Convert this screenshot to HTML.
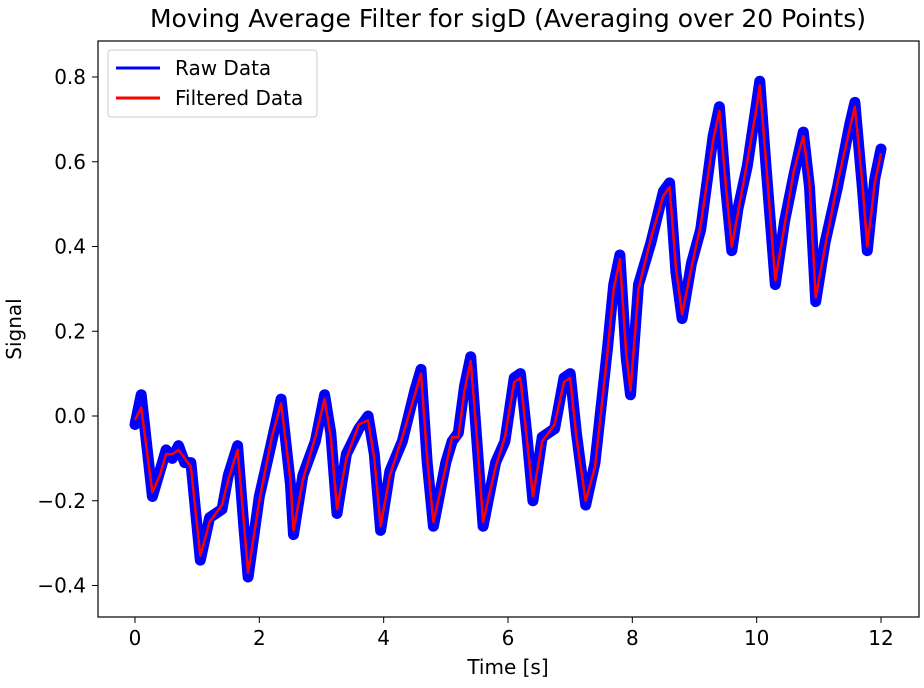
<!DOCTYPE html>
<html><head><meta charset="utf-8"><style>
html,body{margin:0;padding:0;background:#fff;}
svg{display:block;font-family:"DejaVu Sans","Liberation Sans",sans-serif;}
</style></head><body>
<svg id="chart" width="924" height="688">
<rect x="0" y="0" width="924" height="688" fill="#fff"/>
<text x="508" y="27" font-size="25" text-anchor="middle" fill="#000">Moving Average Filter for sigD (Averaging over 20 Points)</text>
<g id="plot"></g>
<g id="xticks"></g>
<g id="yticks"></g>
<text x="508" y="674" font-size="20" text-anchor="middle">Time [s]</text>
<text transform="translate(21,329) rotate(-90)" font-size="20" text-anchor="middle">Signal</text>
<rect x="98" y="41" width="821" height="576" fill="none" stroke="#000" stroke-width="1.2"/>
<g>
<rect x="108" y="50" width="209" height="67" rx="3" fill="#fff" stroke="#ccc"/>
<line x1="116" y1="68" x2="160" y2="68" stroke="#0000ff" stroke-width="3"/>
<text x="175" y="75" font-size="20">Raw Data</text>
<line x1="116" y1="98" x2="160" y2="98" stroke="#ff0000" stroke-width="3"/>
<text x="175" y="105" font-size="20">Filtered Data</text>
</g>
</svg>
<script>
const times=[0,0.1,0.28,0.4,0.5,0.6,0.7,0.8,0.9,1.05,1.2,1.4,1.5,1.65,1.75,1.82,2.0,2.2,2.35,2.5,2.55,2.7,2.9,3.05,3.15,3.25,3.4,3.6,3.75,3.85,3.95,4.1,4.3,4.5,4.6,4.7,4.8,5.0,5.1,5.2,5.3,5.4,5.5,5.6,5.8,5.95,6.1,6.2,6.3,6.4,6.55,6.75,6.9,7.0,7.1,7.25,7.4,7.6,7.7,7.8,7.9,7.97,8.1,8.3,8.5,8.6,8.7,8.8,8.95,9.1,9.3,9.4,9.5,9.6,9.7,9.85,10.0,10.05,10.15,10.3,10.45,10.6,10.75,10.85,10.95,11.1,11.3,11.5,11.58,11.7,11.78,11.9,12.0];
const filtered=[-0.01,0.02,-0.18,-0.14,-0.09,-0.09,-0.08,-0.1,-0.12,-0.33,-0.25,-0.21,-0.15,-0.08,-0.25,-0.37,-0.2,-0.05,0.03,-0.15,-0.27,-0.15,-0.05,0.04,-0.05,-0.22,-0.1,-0.02,-0.01,-0.1,-0.26,-0.14,-0.05,0.05,0.1,-0.1,-0.25,-0.12,-0.05,-0.05,0.06,0.13,-0.05,-0.25,-0.12,-0.05,0.08,0.09,-0.05,-0.19,-0.06,-0.02,0.08,0.09,-0.05,-0.2,-0.12,0.15,0.3,0.37,0.15,0.06,0.3,0.42,0.52,0.54,0.35,0.24,0.35,0.45,0.65,0.72,0.55,0.4,0.48,0.6,0.73,0.78,0.6,0.32,0.45,0.58,0.66,0.55,0.28,0.4,0.55,0.68,0.73,0.55,0.4,0.55,0.62];
const raw=[-0.02,0.05,-0.19,-0.13,-0.08,-0.1,-0.07,-0.11,-0.11,-0.34,-0.24,-0.22,-0.14,-0.07,-0.26,-0.38,-0.19,-0.06,0.04,-0.16,-0.28,-0.14,-0.06,0.05,-0.04,-0.23,-0.09,-0.03,0.0,-0.09,-0.27,-0.13,-0.06,0.06,0.11,-0.11,-0.26,-0.11,-0.06,-0.04,0.07,0.14,-0.06,-0.26,-0.11,-0.06,0.09,0.1,-0.04,-0.2,-0.05,-0.03,0.09,0.1,-0.04,-0.21,-0.11,0.16,0.31,0.38,0.14,0.05,0.31,0.41,0.53,0.55,0.34,0.23,0.36,0.44,0.66,0.73,0.54,0.39,0.49,0.59,0.74,0.79,0.59,0.31,0.46,0.57,0.67,0.54,0.27,0.41,0.54,0.69,0.74,0.54,0.39,0.56,0.63];
const xTicks=[0,2,4,6,8,10,12];
const yTicks=[-0.4,-0.2,0.0,0.2,0.4,0.6,0.8];
const yTickLabels=["\u22120.4","\u22120.2","0.0","0.2","0.4","0.6","0.8"];
const NS="http://www.w3.org/2000/svg";
function xs(t){return 135+t*(881-135)/12;}
function ys(v){return 416-v*(416-77)/0.8;}
function mk(tag,attrs,parent){const e=document.createElementNS(NS,tag);for(const k in attrs)e.setAttribute(k,attrs[k]);parent.appendChild(e);return e;}
const plot=document.getElementById('plot');
const rawPts=times.map((t,i)=>xs(t).toFixed(1)+','+ys(raw[i]).toFixed(1)).join(' ');
const rawLine=mk('polyline',{points:rawPts,fill:'none',stroke:'#0000ff','stroke-width':11,'stroke-linejoin':'round','stroke-linecap':'round'},plot);


const filtPts=times.map((t,i)=>xs(t).toFixed(1)+','+ys(filtered[i]).toFixed(1)).join(' ');
const filtLine=mk('polyline',{points:filtPts,fill:'none',stroke:'#ff0000','stroke-width':2.5,'stroke-linejoin':'round'},plot);


const xg=document.getElementById('xticks');
xTicks.forEach(t=>{
  const l=mk('line',{x1:xs(t),x2:xs(t),y1:617,y2:623,stroke:'#000','stroke-width':1},xg);
  
  
  const tx=mk('text',{x:xs(t),y:645,'font-size':20,'text-anchor':'middle'},xg);
  tx.textContent=String(t);
  
  
});
const yg=document.getElementById('yticks');
yTicks.forEach((v,i)=>{
  const l=mk('line',{x1:92,x2:98,y1:ys(v),y2:ys(v),stroke:'#000','stroke-width':1},yg);
  
  
  const tx=mk('text',{x:86,y:ys(v)+7,'font-size':20,'text-anchor':'end'},yg);
  tx.textContent=yTickLabels[i];
  
  
});
</script>
</body></html>
